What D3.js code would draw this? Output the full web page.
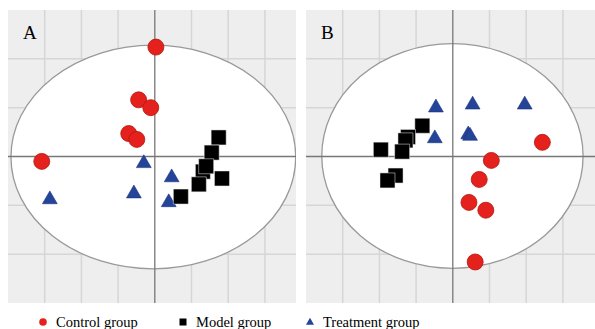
<!DOCTYPE html>
<html>
<head>
<meta charset="utf-8">
<script src="https://cdn.jsdelivr.net/npm/d3@7"></script>
<style>
  body { margin: 0; background: #fff; }
  svg { display: block; }
</style>
</head>
<body>
<svg id="chart" width="595" height="329"></svg>
<script>
"use strict";

// --- data (score units, one grid cell = 1) ---
const panelLabels = ["A", "B"];
const gridX = [-3, -2, -1, 1, 2, 3];
const gridY = [-2, -1, 1, 2];

const controlA = [[0.03, 2.24], [-0.44, 1.16], [-0.11, 1.0], [-0.71, 0.47], [-0.49, 0.35], [-3.08, -0.1]];
const modelA = [[1.74, 0.39], [1.55, 0.08], [1.31, -0.31], [1.4, -0.2], [1.83, -0.45], [1.2, -0.57], [0.71, -0.82]];
const treatA = [[-0.3, -0.14], [0.46, -0.43], [-0.57, -0.76], [-2.86, -0.88], [0.38, -0.94]];

const controlB = [[2.44, 0.29], [1.05, -0.08], [0.72, -0.47], [0.44, -0.94], [0.9, -1.1], [0.61, -2.16]];
const modelB = [[-0.83, 0.63], [-1.22, 0.4], [-1.29, 0.33], [-1.96, 0.14], [-1.38, 0.1], [-1.56, -0.39], [-1.78, -0.49]];
const treatB = [[-0.46, 1.0], [0.54, 1.06], [1.96, 1.06], [-0.49, 0.37], [0.42, 0.45], [0.47, 0.42]];

// ellipse: [cx, cy, rx, ry]
const ellipseA = [-0.04, -0.01, 3.88, 2.29];
const ellipseB = [-0.01, 0.01, 3.56, 2.3];

const legendLabels = ["Control group", "Model group", "Treatment group"];

// --- layout ---
const L = { top: 10, bottom: 303, unitX: 36.7 };
const panels = [
  { left: 8, right: 296, label: panelLabels[0], control: controlA, model: modelA, treat: treatA, ell: ellipseA },
  { left: 306, right: 595, label: panelLabels[1], control: controlB, model: modelB, treat: treatB, ell: ellipseB }
];
const C = { bg: "#eeeeee", grid: "#d6d6d6", axis: "#777", ellipse: "#999", red: "#e4211c", redStroke: "#b5140f", black: "#000", blue: "#24449a" };

const svg = d3.select("#chart");
const defs = svg.append("defs");

const sq = d3.symbol().type(d3.symbolSquare).size(225);
const tri = d3.symbol().type(d3.symbolTriangle).size(95);

panels.forEach((p, i) => {
  const x = d3.scaleLinear().domain([-4, 4]).range([p.left, p.left + 8 * L.unitX]);
  const y = d3.scaleLinear().domain([-3, 3]).range([L.bottom, L.top]);

  defs.append("clipPath").attr("id", "clip" + i)
    .append("rect").attr("x", p.left).attr("y", L.top)
    .attr("width", p.right - p.left).attr("height", L.bottom - L.top);

  const g = svg.append("g").attr("clip-path", `url(#clip${i})`);

  g.append("rect")
    .attr("x", p.left).attr("y", L.top)
    .attr("width", p.right - p.left).attr("height", L.bottom - L.top)
    .attr("fill", C.bg);

  // grid
  g.selectAll(".gx").data(gridX).enter().append("line")
    .attr("x1", d => x(d)).attr("x2", d => x(d))
    .attr("y1", L.top).attr("y2", L.bottom)
    .attr("stroke", C.grid).attr("stroke-width", 1.5);
  g.selectAll(".gy").data(gridY).enter().append("line")
    .attr("x1", p.left).attr("x2", p.right)
    .attr("y1", d => y(d)).attr("y2", d => y(d))
    .attr("stroke", C.grid).attr("stroke-width", 1.5);

  // ellipse
  g.append("ellipse")
    .attr("cx", x(p.ell[0])).attr("cy", y(p.ell[1]))
    .attr("rx", x(p.ell[2]) - x(0)).attr("ry", y(0) - y(p.ell[3]))
    .attr("fill", "#fff").attr("stroke", C.ellipse).attr("stroke-width", 1.3);

  // axes through origin
  g.append("line").attr("x1", p.left).attr("x2", p.right)
    .attr("y1", y(0)).attr("y2", y(0))
    .attr("stroke", C.axis).attr("stroke-width", 1.3);
  g.append("line").attr("x1", x(0)).attr("x2", x(0))
    .attr("y1", L.top).attr("y2", L.bottom)
    .attr("stroke", C.axis).attr("stroke-width", 1.3);

  // panel label
  g.append("text")
    .attr("x", p.left + 15).attr("y", 39)
    .style("font-family", "'Liberation Serif', serif").style("font-size", "19px")
    .attr("fill", "#000").text(p.label);

  // points
  g.selectAll(".tri").data(p.treat).enter().append("path")
    .attr("d", tri).attr("transform", d => `translate(${x(d[0])},${y(d[1])})`)
    .attr("fill", C.blue).attr("stroke", "#1a3380").attr("stroke-width", 0.6);
  g.selectAll(".sq").data(p.model).enter().append("path")
    .attr("d", sq).attr("transform", d => `translate(${x(d[0])},${y(d[1])})`)
    .attr("fill", C.black).attr("stroke", "#eee").attr("stroke-width", 0.5);
  g.selectAll(".ci").data(p.control).enter().append("circle")
    .attr("cx", d => x(d[0])).attr("cy", d => y(d[1])).attr("r", 8)
    .attr("fill", C.red).attr("stroke", C.redStroke).attr("stroke-width", 0.8);
});

// legend
const legendX = [43, 183, 310];
const lg = svg.append("g");
legendLabels.forEach((lab, i) => {
  const cx = legendX[i], cy = 322;
  if (i === 0) lg.append("circle").attr("cx", cx).attr("cy", cy).attr("r", 3.8).attr("fill", C.red);
  if (i === 1) lg.append("rect").attr("x", cx - 3.5).attr("y", cy - 3.5).attr("width", 7).attr("height", 7).attr("fill", C.black);
  if (i === 2) lg.append("path").attr("d", d3.symbol().type(d3.symbolTriangle).size(28)).attr("transform", `translate(${cx},${cy + 0.5})`).attr("fill", C.blue);
  lg.append("text")
    .attr("x", cx + 13).attr("y", cy + 5)
    .style("font-family", "'Liberation Serif', serif").style("font-size", "14.5px")
    .attr("fill", "#000").text(lab);
});
</script>
</body>
</html>
